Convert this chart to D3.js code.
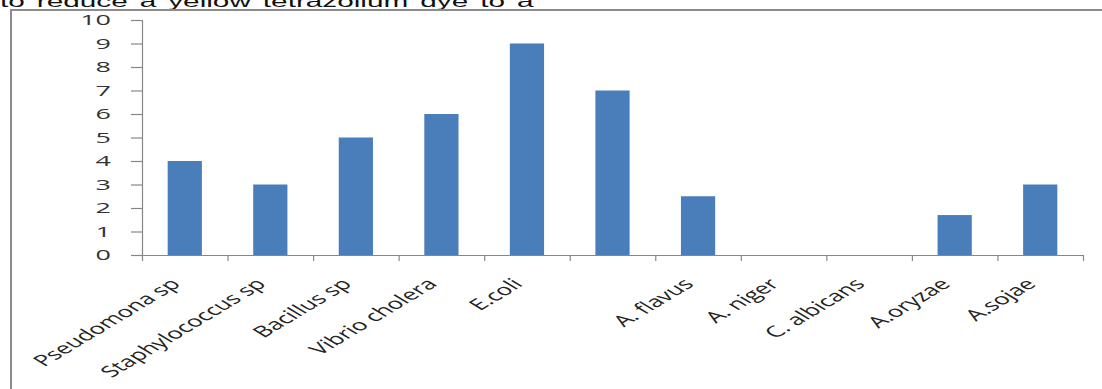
<!DOCTYPE html>
<html>
<head>
<meta charset="utf-8">
<script src="https://cdn.jsdelivr.net/npm/d3@7"></script>
<style>
  html, body { margin: 0; padding: 0; background: #fff; }
  svg { display: block; }
</style>
</head>
<body>
<svg id="chart" width="1102" height="389"></svg>
<script>
// Organisms tested and the reduction reading for each
const categories = ["Pseudomona sp", "Staphylococcus sp", "Bacillus sp", "Vibrio cholera", "E.coli", "", "A. flavus", "A. niger", "C. albicans", "A.oryzae", "A.sojae"];
const values = [4, 3, 5, 6, 9, 7, 2.5, 0, 0, 1.7, 3];
const yTicks = [0, 1, 2, 3, 4, 5, 6, 7, 8, 9, 10];
const captionText = "to reduce a yellow tetrazolium dye to a";

const svg = d3.select("#chart");
const plot = { left: 142, right: 1083, top: 20, bottom: 255 };
const sx = 1.86;      // sideways stretch of the caption and axis numbers
const labelSx = 1.67; // sideways stretch of the slanted category names

// Caption line above the frame, partly cut off by the page edge
svg.append("text")
  .attr("transform", `translate(0,7) scale(${sx},1)`)
  .attr("font-family", "Liberation Sans, Arial, sans-serif")
  .attr("font-size", 16)
  .attr("word-spacing", 2)
  .attr("fill", "#111")
  .text(captionText);

// Frame around the chart
svg.append("path")
  .attr("d", `M11,389 L11,10 L1102,10`)
  .attr("fill", "none")
  .attr("stroke", "#8c8c8c")
  .attr("stroke-width", 2);

const x = d3.scaleBand()
  .domain(d3.range(categories.length))
  .range([plot.left, plot.right])
  .paddingInner(0.6)
  .paddingOuter(0.3);

const xEdges = d3.scaleLinear()
  .domain([0, categories.length])
  .range([plot.left, plot.right]);

const y = d3.scaleLinear()
  .domain([0, 10])
  .range([plot.bottom, plot.top]);

// Bars
svg.append("g")
  .selectAll("rect")
  .data(values)
  .join("rect")
  .attr("x", (d, i) => x(i))
  .attr("width", x.bandwidth())
  .attr("y", d => y(d))
  .attr("height", d => y(0) - y(d))
  .attr("fill", "#4a7ebb");

// Y axis
const yAxis = svg.append("g")
  .attr("transform", `translate(${plot.left},0)`)
  .call(d3.axisLeft(y).tickValues(yTicks).tickSize(11).tickFormat(""));
yAxis.selectAll("path, line").attr("stroke", "#878787").attr("stroke-width", 1.2);

svg.append("g")
  .selectAll("text")
  .data(yTicks)
  .join("text")
  .attr("transform", d => `translate(111,${y(d)}) scale(${sx},1)`)
  .attr("text-anchor", "end")
  .attr("dy", "0.36em")
  .attr("font-family", "Open Sans, Liberation Sans, sans-serif")
  .attr("font-size", 14.5)
  .attr("fill", "#333")
  .text(d => d);

// X axis with ticks at category boundaries
const xAxis = svg.append("g")
  .attr("transform", `translate(0,${plot.bottom})`)
  .call(d3.axisBottom(xEdges).tickValues(d3.range(categories.length + 1)).tickSize(6).tickSizeOuter(0).tickFormat(""));
xAxis.selectAll("path, line").attr("stroke", "#878787").attr("stroke-width", 1.2);

// Slanted category labels
svg.append("g")
  .selectAll("text")
  .data(categories)
  .join("text")
  .attr("transform", (d, i) => `translate(${x(i) + x.bandwidth() / 2 - 3},${plot.bottom + 30}) scale(${labelSx},1) rotate(-45)`)
  .attr("text-anchor", "end")
  .attr("font-family", "Open Sans, Liberation Sans, sans-serif")
  .attr("font-size", 15.5)
  .attr("fill", "#222")
  .text(d => d);
</script>
</body>
</html>
